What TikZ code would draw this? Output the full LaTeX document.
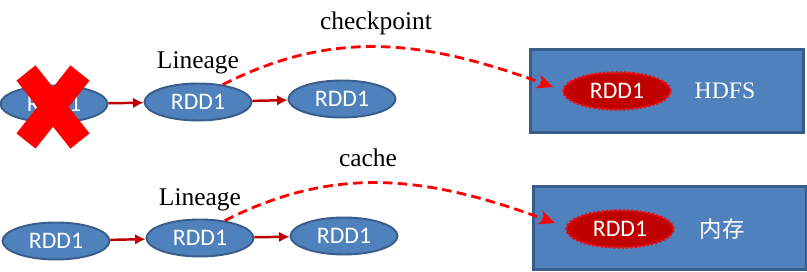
\documentclass[tikz,border=0pt]{standalone}
\usepackage{fontspec}
\setmainfont{Liberation Serif}
\newfontfamily\calibri{Carlito}
\newfontfamily\cjk{Noto Sans CJK SC}
\usetikzlibrary{positioning, arrows.meta, shapes.geometric}
\usepackage{xcolor}
\definecolor{rddblue}{HTML}{4F81BD}
\definecolor{rddedge}{HTML}{385D8A}
\definecolor{darkred}{HTML}{C00000}

\begin{document}
\begin{tikzpicture}
			[node distance=2.88cm]
			
			\tikzstyle{rdd} = [ellipse, minimum width=2.14cm, minimum height=0.74cm, inner sep=0pt, draw=rddedge, line width=1.1pt, fill=rddblue, text=white, font=\calibri\fontsize{13.5}{13.5}\selectfont]
			
			\tikzstyle{cached} = [ellipse, minimum width=2.14cm, minimum height=0.74cm, inner sep=0pt, draw=red, line width=1.4pt, dash pattern=on 1.3pt off 1.1pt, fill=darkred, text=white, font=\calibri\fontsize{13.5}{13.5}\selectfont]
			
			\tikzstyle{store} = [rectangle, minimum width=5.46cm, minimum height=1.66cm, draw=rddedge, line width=1.7pt, fill=rddblue]
			
			\tikzstyle{note} = [anchor=base, font=\fontsize{14.5}{14.5}\selectfont]
			
			\tikzstyle{arrow} = [line width=1.4pt, darkred, -{Latex[length=6pt, width=6pt]}]
			
			\tikzstyle{dasharrow} = [line width=1.6pt, red, dash pattern=on 5.5pt off 3pt, -{Stealth[length=9pt, width=8pt, inset=2.5pt]}]
			
			\tikzstyle{lost} = [line width=13.9pt, red]
			
			\useasboundingbox (0,0) rectangle (16.14,5.44);
			
			% checkpoint row
			\node (a1) [rdd] at (1.08,3.36) {RDD1};
			\node (a2) [rdd, right of=a1, yshift=0.04cm] {RDD1};
			\node (a3) [rdd, right of=a2, yshift=0.06cm] {RDD1};
			\node (lin1) [above of=a2, node distance=0.66cm, note] {Lineage};
			\node (ckpt) [note] at (7.52,4.84) {checkpoint};
			\node (disk) [store] at (13.33,3.61) {};
			\node (ck) [cached] at (12.34,3.62) {RDD1};
			\node (hdfs) [right of=ck, node distance=2.16cm, text=white, font=\fontsize{13.5}{13.5}\selectfont] {HDFS};
			\coordinate (ckin) at ([xshift=-1.28cm, yshift=0.08cm]ck.center);
			
			% cache row
			\node (b1) [rdd] at (1.12,0.62) {RDD1};
			\node (b2) [rdd, right of=b1, yshift=0.06cm] {RDD1};
			\node (b3) [rdd, right of=b2, yshift=0.04cm] {RDD1};
			\node (lin2) [above of=b2, node distance=0.64cm, note] {Lineage};
			\node (cch) [note] at (7.36,2.10) {cache};
			\node (ram) [store] at (13.40,0.87) {};
			\node (cc) [cached] at (12.40,0.86) {RDD1};
			\node (mem) [right of=cc, node distance=2.04cm, text=white, font=\cjk\fontsize{12.75}{12.75}\selectfont] {内存};
			\coordinate (ccin) at ([xshift=-1.30cm, yshift=0.12cm]cc.center);
			
			\draw [arrow] (a1) -- (a2);
			\draw [arrow] (a2) -- (a3);
			\draw [arrow] (b1) -- (b2);
			\draw [arrow] (b2) -- (b3);
			
			\draw [dasharrow] (a2.35) to [out=27, in=160] (ckin);
			\draw [dasharrow] (b2.35) to [out=27, in=160] (ccin);
			
			% lost partition
			\draw [lost] (a1) ++(-0.56,0.62) -- ++(1.08,-1.36);
			\draw [lost] (a1) ++(0.52,0.62) -- ++(-1.08,-1.36);
			
		\end{tikzpicture}
\end{document}
